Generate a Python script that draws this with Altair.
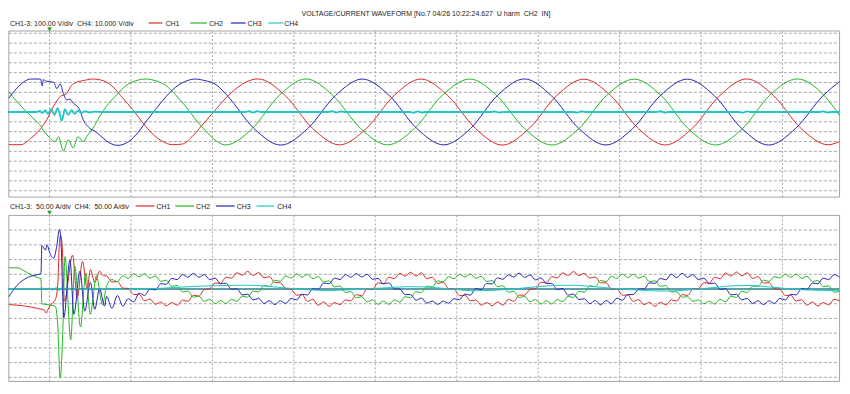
import altair as alt
import pandas as pd

# ------------------------------------------------------------------ data
CHANNELS = ["CH1", "CH2", "CH3", "CH4"]
CH_COLORS = ["#e02828", "#22b822", "#2626b4", "#1ec6c6"]

TITLE = "VOLTAGE/CURRENT WAVEFORM [No.7 04/26 10:22:24.627\u00a0\u00a0U harm\u00a0\u00a0CH2\u00a0\u00a0IN]"
V_HEADER = "CH1-3: 100.00 V/div\u00a0\u00a0CH4: 10.000 V/div"
I_HEADER = "CH1-3:\u00a0\u00a050.00 A/div\u00a0\u00a0CH4:\u00a0\u00a050.00 A/div"

V_PER_DIV = 100.0   # CH1-3 voltage
V4_PER_DIV = 10.0   # CH4 voltage
A_PER_DIV = 50.0    # currents

T_WINDOW = [-5.0, 97.0]                       # ms, trigger at 0
T_GRID = [0, 10, 20, 30, 40, 50, 60, 70, 80, 90]
V_GRID = [-800, -700, -600, -500, -400, -300, -200, -100, 0,
          100, 200, 300, 400, 500, 600, 700, 800]
A_GRID = [-300, -250, -200, -150, -100, -50, 0, 50, 100, 150, 200]

# ---- voltage (V), time (ms)
V_CH1_T = [-5.0, -3.5, -2.3, -1.1, -0.3, 0.5, 1.3, 2.1, 2.7, 3.3, 4.1, 5.3, 6.6, 7.8, 9.0,
           10.2, 11.4, 12.6, 13.9, 15.1, 16.3, 17.5, 18.7, 19.9, 21.1, 22.3, 25.6, 28.9,
           32.3, 35.6, 38.9, 42.3, 45.6, 48.9, 52.3, 55.6, 58.9, 62.3, 65.6, 68.9, 72.3,
           75.6, 78.9, 82.3, 85.6, 88.9, 92.3, 95.6, 97.0]
V_CH1 = [-332, -332, -267, -170, -72, 59, 156, 188, 269, 302, 318, 335, 318, 254, 140,
         25, -104, -218, -300, -332, -326, -251, -137, -23, 91, 195, 336, 170,
         -166, -334, -168, 167, 335, 166, -168, -336, -166, 169, 334, 167, -168,
         -335, -167, 168, 336, 166, -169, -333, -300]

V_CH2_T = [-5.0, -4.0, -2.7, -1.5, -1.0, -0.8, -0.3, 0.7, 1.1, 1.7, 2.3, 2.9, 3.5, 4.1,
           4.7, 5.3, 6.2, 7.0, 8.2, 9.4, 10.6, 11.8, 13.0, 14.3, 15.5, 16.7, 17.9, 19.1,
           20.3, 21.6, 24.9, 28.2, 31.5, 34.8, 38.2, 41.5, 44.8, 48.2, 51.6, 54.9, 58.3,
           61.7, 65.0, 68.4, 71.8, 75.1, 78.4, 81.8, 85.1, 88.4, 91.8, 95.1, 97.0]
V_CH2 = [205, 107, -7, -104, -150, -185, -234, -300, -251, -397, -283, -365, -251, -300,
         -234, -170, -39, 59, 172, 269, 318, 335, 318, 269, 172, 59, -72, -185,
         -283, -335, -167, 169, 336, 167, -168, -334, -169, 167, 335, 168, -167,
         -336, -168, 169, 334, 167, -168, -335, -167, 168, 336, 168, -35]

V_CH3_T = [-5.0, -3.8, -2.3, -1.1, -0.9, -0.75, -0.5, 0.5, 0.9, 1.3, 1.7, 2.1, 2.5, 2.9,
           3.7, 4.1, 4.9, 5.7, 6.6, 7.4, 8.4, 9.4, 10.6, 11.8, 13.0, 14.3, 15.5, 16.7,
           17.9, 19.1, 20.3, 21.8, 25.1, 28.4, 31.7, 35.1, 38.4, 41.7, 45.1, 48.4, 51.7,
           55.0, 58.3, 61.6, 65.0, 68.3, 71.6, 75.0, 78.3, 81.6, 85.0, 88.3, 91.6, 95.0,
           97.0]
V_CH3 = [140, 260, 335, 335, 265, 330, 315, 302, 237, 286, 188, 123, 130, 91,
         25, -72, -163, -202, -267, -316, -339, -316, -234, -104, 25, 156, 254, 312,
         335, 318, 286, 168, -167, -336, -168, 167, 335, 169, -168, -334, -167,
         168, 336, 167, -169, -335, -168, 167, 334, 168, -168, -336, -167, 168,
         310]

V_CH4_T = [-5.0, -1.6, -1.2, -0.9, -0.5, -0.2, 0.2, 0.6, 1.0, 1.5, 1.9, 2.3, 2.7, 3.1,
           3.5, 3.9, 4.4, 4.9, 5.5, 6.5, 24.0, 24.5, 25.0, 25.5, 26.0, 34.2, 34.7, 35.2,
           35.7, 36.2, 44.2, 44.7, 45.2, 45.7, 46.2, 54.2, 54.7, 55.2, 55.7, 64.3, 64.8,
           65.3, 65.8, 74.5, 75.0, 75.5, 76.0, 84.6, 85.1, 85.6, 86.1, 94.5, 95.0, 95.5,
           96.0, 97.0]
V_CH4 = [0, 0, 1, -1, 2, -2, 3, -3, 4, -8.5, 3, -3, 2, -2,
         1.5, -1, 0.8, -0.5, 0.3, 0, 0, 0.8, -0.6, 0.8, 0, 0, 0.8, -0.6,
         0.6, 0, 0, -0.8, 0.7, -0.5, 0, 0, 0.7, -0.6, 0, 0, -0.7,
         0.6, 0, 0, 0.8, -0.6, 0, 0, -0.7, 0.6, 0, 0, 0.7, -0.5,
         0, 0]

# ---- current (A): transient part read point by point
I_CH1_TR_T = [-5.0, -3.0, -1.5, -0.6, -0.4, -0.2, 0.1, 0.7, 1.0, 1.2, 1.35, 1.55, 1.82,
              2.83, 3.4, 4.05, 4.62, 5.02, 5.55, 6.15, 6.6]
I_CH1_TR = [-53, -58, -66, -72, -82, -70, -55, -37, 10, 150, 181, 150, -42,
            115, -31, 94, 0, 66, 22, 61, 45]
I_CH2_TR_T = [-5.0, -4.0, -2.7, -1.5, -1.05, -0.95, -0.3, 0.7, 1.0, 1.3, 1.6, 1.9, 2.6,
              3.1, 3.8, 4.45, 5.0, 5.75, 6.5]
I_CH2_TR = [72, 72, 55, 39, 35, -50, -53, -59, -120, -303, -170, 110, -173,
            77, -129, 55, -86, 45, -53]
I_CH3_TR_T = [-5.0, -4.0, -2.7, -1.3, -1.05, -0.95, -0.5, -0.3, 0.0, 0.5, 0.9, 1.2, 1.4,
              1.75, 2.51, 2.99, 3.73, 4.33, 5.02, 5.55, 6.15, 6.76]
I_CH3_TR = [-26, 12, 39, 50, 52, 148, 132, 150, 125, 104, 148, 202, 164,
            -97, 99, -86, 61, -75, 23, -69, 1, -58]

# ---- current (A): steady record, one sample every 2/3 ms from 7 ms
I_T0 = 7.0
I_DT = 2.0 / 3.0
I_CH1 = [44, 24, 25, 3, 2, -19, -18, -40, -34, -52, -44, -57, -46, -55, -38, -42, -21, -24,
         -2, 1, 20, 19, 40, 37, 55, 47,
         60, 46, 56, 38, 42, 22, 21, 2, -1, -21, -19, -42, -35, -55, -44, -59, -46, -53,
         -37, -40, -19, -23, 1, -1, 21, 18, 40, 35, 53, 44,
         57, 44, 55, 35, 40, 19, 23, 1, 0, -23, -21, -40, -37, -55, -46, -57, -44, -55,
         -35, -42, -21, -21, -1, 1, 23, 21, 42, 37, 55, 46,
         59, 46, 53, 37, 41, 21, 21, -1, 1, -21, -20, -42, -36, -53, -45, -59, -45, -54,
         -37, -41, -19, -22, 0, 1, 21, 20, 40, 35, 54, 44,
         58, 45, 55, 36, 42, 20, 22, 0, -1, -22, -21, -41, -36, -55, -44, -58, -46, -54,
         -35, -40]
I_CH2 = [10, 32, 25, 45, 36, 52,
         41, 52, 37, 44, 26, 30, 9, 12, -10, -7, -28, -24, -42, -35, -50, -39, -50, -35,
         -42, -24, -28, -7, -10, 12, 9, 30, 26, 44, 37, 52,
         40, 50, 35, 42, 24, 28, 7, 10, -12, -9, -30, -26, -44, -37, -52, -41, -52, -37,
         -44, -26, -30, -9, -12, 10, 7, 28, 24, 42, 35, 50,
         41, 51, 36, 43, 25, 29, 8, 11, -11, -8, -29, -25, -43, -36, -51, -40, -51, -36,
         -43, -25, -29, -8, -11, 11, 8, 29, 25, 43, 36, 51,
         39, 50, 37, 44, 24, 28, 9, 12, -10, -9, -28, -26, -42, -37, -50, -41, -51, -35,
         -44, -24, -29, -7, -12, 10, 9, 30, 26, 42, 37, 50,
         40, 51, 36, 43, 25, 29, 8, 11, -11, -8]
I_CH3 = [-25, -66, -22, -58, -33, -44, -14, -22, 0, -3, 18, 16, 36, 32, 49, 40,
         53, 40, 49, 32, 37, 18, 20, -1, 1, -20, -18, -37, -32, -49, -40, -53, -40, -49,
         -32, -37, -18, -20, 1, -1, 20, 18, 37, 32, 49, 40,
         52, 41, 50, 33, 36, 17, 21, 0, 0, -19, -19, -38, -31, -48, -41, -52, -41, -48,
         -33, -36, -17, -21, 2, -2, 19, 17, 38, 33, 48, 41,
         54, 39, 48, 31, 38, 19, 19, -2, 2, -21, -17, -36, -33, -50, -39, -54, -39, -50,
         -31, -38, -19, -19, 0, 0, 21, 19, 36, 31, 50, 39,
         53, 40, 49, 32, 37, 18, 20, -1, 1, -20, -18, -37, -32, -49, -40, -53, -40, -49,
         -32, -37, -18, -20, 1, -1, 20, 18, 37, 32, 49, 40]

I_CH4_T = [-5.0, -1.2, -0.8, -0.4, 0.0, 0.4, 0.8, 1.2, 1.5, 1.9, 2.3, 2.8, 3.3, 4.0, 5.0,
           6.0, 8.0, 10.0, 12.0, 14.0, 16.0, 18.0, 20.0, 22.0, 24.0, 26.0, 28.0, 30.0,
           32.0, 34.0, 36.0, 38.0, 40.0, 42.0, 44.0, 46.0, 48.0, 50.0, 52.0, 54.0, 56.0,
           58.0, 60.0, 62.0, 64.0, 66.0, 68.0, 70.0, 72.0, 74.0, 76.0, 78.0, 80.0, 82.0,
           84.0, 86.0, 88.0, 90.0, 92.0, 94.0, 96.0, 97.0]
I_CH4 = [0, 0, 3, -3, 4, -4, 5, -6, 6, -4, 4, -3, 2, -2, 1,
         0, -1, -2, 0, 3, 6, 9, 11, 12, 13, 11, 6, 1,
         -3, -5, -4, -1, 2, 5, 8, 7, 3, -2, -6, -5, -2,
         3, 8, 12, 13, 10, 5, 0, -3, -6, -7, -4, 1, 6,
         11, 12, 8, 3, -2, -4, -5, -4]

# ------------------------------------------------------------------ layout
W, H = 834, 376
X_DOMAIN = [-5.1, 97.3]
TOP_CENTER_PX, TOP_PX_PER_DIV = 104.0, 9.84
BOT_CENTER_PX, BOT_PX_PER_DIV = 281.0, 14.72
TOP_FRAME_PX = (23.0, 189.1)
BOT_FRAME_PX = (207.4, 373.4)

FONT = "Liberation Sans, Arial, sans-serif"
FS = 7.0
TEXT_COLOR = "#222222"
FRAME_COLOR = "#a4a4a4"
GRID_COLOR = "#a8a8a8"
TRIG_COLOR = "#18a818"


def px_to_val(px, center, px_per_div, per_div):
    return (center - px) / px_per_div * per_div


TOP_DOMAIN = [px_to_val(H, TOP_CENTER_PX, TOP_PX_PER_DIV, V_PER_DIV),
              px_to_val(0, TOP_CENTER_PX, TOP_PX_PER_DIV, V_PER_DIV)]
BOT_DOMAIN = [px_to_val(H, BOT_CENTER_PX, BOT_PX_PER_DIV, A_PER_DIV),
              px_to_val(0, BOT_CENTER_PX, BOT_PX_PER_DIV, A_PER_DIV)]
TOP_FRAME = [px_to_val(TOP_FRAME_PX[1], TOP_CENTER_PX, TOP_PX_PER_DIV, V_PER_DIV),
             px_to_val(TOP_FRAME_PX[0], TOP_CENTER_PX, TOP_PX_PER_DIV, V_PER_DIV)]
BOT_FRAME = [px_to_val(BOT_FRAME_PX[1], BOT_CENTER_PX, BOT_PX_PER_DIV, A_PER_DIV),
             px_to_val(BOT_FRAME_PX[0], BOT_CENTER_PX, BOT_PX_PER_DIV, A_PER_DIV)]

XS = alt.Scale(domain=X_DOMAIN, nice=False, zero=False)
YT = alt.Scale(domain=TOP_DOMAIN, nice=False, zero=False)
YB = alt.Scale(domain=BOT_DOMAIN, nice=False, zero=False)
CS = alt.Scale(domain=CHANNELS, range=CH_COLORS)
ONE = pd.DataFrame({"_": [0]})


def X(f):
    return alt.X(f"{f}:Q", scale=XS, axis=None)


def Y(f, s):
    return alt.Y(f"{f}:Q", scale=s, axis=None)


layers = []

# frames, grids
for frame, ys, grid in ((TOP_FRAME, YT, V_GRID), (BOT_FRAME, YB, A_GRID)):
    fr = pd.DataFrame({"t0": [T_WINDOW[0]], "t1": [T_WINDOW[1]],
                       "v0": [frame[0]], "v1": [frame[1]]})
    layers.append(alt.Chart(fr).mark_rect(fill="white", stroke=FRAME_COLOR, strokeWidth=1)
                  .encode(x=X("t0"), x2="t1", y=Y("v0", ys), y2="v1"))
    vg = pd.DataFrame({"t": T_GRID, "v0": frame[0], "v1": frame[1]})
    layers.append(alt.Chart(vg).mark_rule(color=GRID_COLOR, strokeWidth=1, strokeDash=[2, 2])
                  .encode(x=X("t"), y=Y("v0", ys), y2="v1"))
    hg = pd.DataFrame({"v": grid, "t0": T_WINDOW[0], "t1": T_WINDOW[1]})
    layers.append(alt.Chart(hg).mark_rule(color=GRID_COLOR, strokeWidth=1, strokeDash=[3, 2])
                  .encode(x=X("t0"), x2="t1", y=Y("v", ys)))

# bottom zero line
zl = pd.DataFrame({"t0": [T_WINDOW[0]], "t1": [T_WINDOW[1]], "v": [0]})
layers.append(alt.Chart(zl).mark_rule(color="#5f9fa8", strokeWidth=2)
              .encode(x=X("t0"), x2="t1", y=Y("v", YB)))

# voltage waveforms
volt = pd.concat([
    pd.DataFrame({"t": V_CH1_T, "v": V_CH1, "ch": "CH1"}),
    pd.DataFrame({"t": V_CH2_T, "v": V_CH2, "ch": "CH2"}),
    pd.DataFrame({"t": V_CH3_T, "v": V_CH3, "ch": "CH3"}),
], ignore_index=True)
layers.append(alt.Chart(volt).mark_line(interpolate="monotone", strokeWidth=1)
              .encode(x=X("t"), y=Y("v", YT),
                      color=alt.Color("ch:N", scale=CS, legend=None)))
v4 = pd.DataFrame({"t": V_CH4_T, "v": V_CH4, "ch": "CH4"})
layers.append(alt.Chart(v4).transform_calculate(vd=f"datum.v * {V_PER_DIV / V4_PER_DIV}")
              .mark_line(interpolate="monotone", strokeWidth=1.8)
              .encode(x=X("t"), y=Y("vd", YT),
                      color=alt.Color("ch:N", scale=CS, legend=None)))

# current waveforms
i_time = [round(I_T0 + I_DT * k, 3) for k in range(len(I_CH1))]
curr = pd.concat([
    pd.DataFrame({"t": I_CH1_TR_T + i_time, "v": I_CH1_TR + I_CH1, "ch": "CH1"}),
    pd.DataFrame({"t": I_CH2_TR_T + i_time, "v": I_CH2_TR + I_CH2, "ch": "CH2"}),
    pd.DataFrame({"t": I_CH3_TR_T + i_time, "v": I_CH3_TR + I_CH3, "ch": "CH3"}),
    pd.DataFrame({"t": I_CH4_T, "v": I_CH4, "ch": "CH4"}),
], ignore_index=True)
layers.append(alt.Chart(curr).mark_line(interpolate="monotone", strokeWidth=1)
              .encode(x=X("t"), y=Y("v", YB),
                      color=alt.Color("ch:N", scale=CS, legend=None)))


# texts
def label(text, x, y, align="left"):
    return alt.Chart(ONE).mark_text(align=align, baseline="alphabetic", font=FONT,
                                    fontSize=FS, color=TEXT_COLOR).encode(
        x=alt.value(x), y=alt.value(y), text=alt.value(text))


def swatch(color, x0, x1, y):
    return alt.Chart(ONE).mark_rule(color=color, strokeWidth=1.2).encode(
        x=alt.value(x0), x2=alt.value(x1), y=alt.value(y))


layers.append(label(TITLE, 418, 8.0, align="center"))
layers.append(label(V_HEADER, 2, 17.6))
layers.append(label(I_HEADER, 2, 200.6))

TOP_LEG = [(140.6, 154.4, 157.4), (182.2, 198.9, 200.9), (222.8, 237.6, 239.6), (260.4, 275.2, 276.2)]
BOT_LEG = [(127.7, 146.5, 148.5), (167.3, 186.1, 188.1), (207.9, 226.7, 228.7), (248.5, 266.3, 269.3)]
for legs, ly, ty in ((TOP_LEG, 15.0, 17.6), (BOT_LEG, 198.0, 200.6)):
    for (a, b, tx), ch, col in zip(legs, CHANNELS, CH_COLORS):
        layers.append(swatch(col, a, b, ly))
        layers.append(label(ch, tx, ty))

# trigger markers and zero-level markers
trig = pd.DataFrame({"t": [0.0]})
for yy in (21.4, 204.8):
    layers.append(alt.Chart(trig).mark_point(shape="triangle-down", filled=True, size=22,
                                             color=TRIG_COLOR, opacity=1)
                  .encode(x=X("t"), y=alt.value(yy)))
for yy in (TOP_CENTER_PX, BOT_CENTER_PX):
    layers.append(alt.Chart(ONE).mark_point(shape="triangle-right", filled=True, size=10,
                                            color="#1eb4b4", opacity=1)
                  .encode(x=alt.value(1.5), y=alt.value(yy)))

chart = (alt.layer(*layers)
         .resolve_scale(y="independent")
         .properties(width=W, height=H, padding=0, background="white",
                     autosize=alt.AutoSizeParams(type="none"))
         .configure_view(stroke=None))

chart.save("out.html", embed_options={"renderer": "svg", "actions": False})
